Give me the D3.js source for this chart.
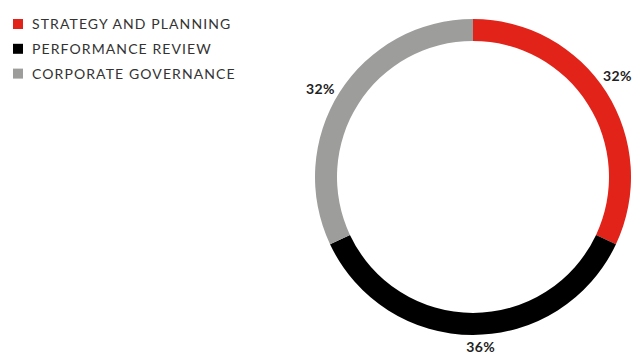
<!DOCTYPE html>
<html>
<head>
<meta charset="utf-8">
<script src="https://cdn.jsdelivr.net/npm/d3@7"></script>
<style>
  body { margin: 0; background: #fff; }
</style>
</head>
<body>
<div id="chart"></div>
<script>
let categories = ["STRATEGY AND PLANNING", "PERFORMANCE REVIEW", "CORPORATE GOVERNANCE"];
let values = [32, 36, 32];
let colors = ["#e2231a", "#000000", "#9d9d9c"];

let w = 637;
let h = 356;
let cx = 473, cy = 177;
let outerR = 158, innerR = 136;
let labelR = 176;

let svg = d3.select("#chart")
    .append("svg")
    .attr("width", w)
    .attr("height", h);

let pie = d3.pie().sort(null).value(function(d) { return d; });
let arcs = pie(values);

let arc = d3.arc().innerRadius(innerR).outerRadius(outerR);

// labels sit a little before the middle of each slice, kept inside the picture
function labelPos(d) {
    let a = (d.startAngle + d.endAngle) / 2 - 2.5 * Math.PI / 180;
    let x = labelR * Math.sin(a);
    let y = -labelR * Math.cos(a);
    y = Math.min(y, h - cy - 9);
    return [x, y];
}

let g = svg.append("g").attr("transform", "translate(" + cx + "," + cy + ")");

g.selectAll("path")
    .data(arcs)
    .enter()
    .append("path")
    .attr("d", arc)
    .attr("fill", function(d, i) { return colors[i]; });

g.selectAll("text")
    .data(arcs)
    .enter()
    .append("text")
    .attr("x", function(d) { return labelPos(d)[0]; })
    .attr("y", function(d) { return labelPos(d)[1]; })
    .attr("dy", "0.35em")
    .attr("text-anchor", "middle")
    .attr("font-family", "Lato, sans-serif")
    .attr("font-weight", "bold")
    .attr("font-size", "14px")
    .attr("letter-spacing", "0.4px")
    .attr("fill", "#222")
    .text(function(d) { return d.data + "%"; });

// legend
let legend = svg.append("g").attr("transform", "translate(13,19)");

let rows = legend.selectAll("g")
    .data(categories)
    .enter()
    .append("g")
    .attr("transform", function(d, i) { return "translate(0," + (i * 24.8) + ")"; });

rows.append("rect")
    .attr("width", 10)
    .attr("height", 10)
    .attr("fill", function(d, i) { return colors[i]; });

rows.append("text")
    .attr("x", 19)
    .attr("y", 5)
    .attr("dy", "0.36em")
    .attr("font-family", "Lato, sans-serif")
    .attr("font-size", "14px")
    .attr("letter-spacing", "1.1px")
    .attr("fill", "#333")
    .text(function(d) { return d; });
</script>
</body>
</html>
